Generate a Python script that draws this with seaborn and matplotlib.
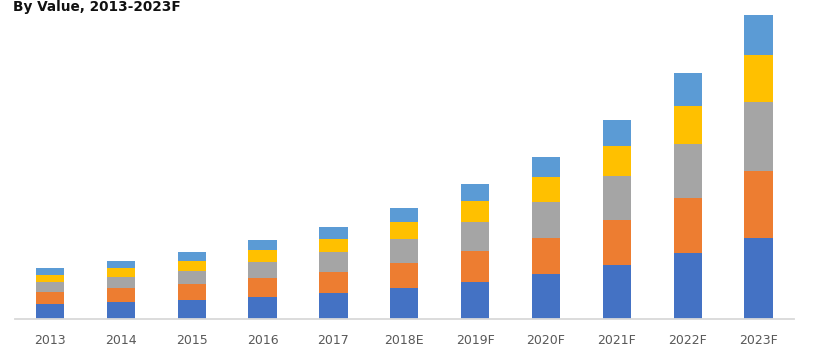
import matplotlib
matplotlib.use("Agg")
import matplotlib.pyplot as plt
import seaborn as sns
import numpy as np

# ----------------------------------------
# Data (segment heights per year)
# ----------------------------------------
years = ["2013", "2014", "2015", "2016", "2017", "2018E",
         "2019F", "2020F", "2021F", "2022F", "2023F"]
seg_1 = [15, 17, 19, 22, 26, 31, 37.5, 45, 54.5, 66.5, 81.5]
seg_2 = [12, 14, 16, 19, 21, 25.5, 30.5, 36.5, 44.5, 54.5, 66.5]
seg_3 = [10, 11, 13, 16, 20, 23.5, 29.5, 36, 44, 54.5, 69.5]
seg_4 = [7, 9, 10, 12, 13.5, 17, 20.5, 24.5, 30.5, 38, 47]
seg_5 = [7, 7, 9, 10, 11.5, 14.5, 17.5, 20.5, 25.5, 32.5, 39.5]

segments = [seg_1, seg_2, seg_3, seg_4, seg_5]
colors = ["#4472C4", "#ED7D31", "#A5A5A5", "#FFC000", "#5B9BD5"]

# ----------------------------------------
# Stacked bars: draw cumulative totals from the top down
# ----------------------------------------
sns.set_style("white")
fig = plt.figure(figsize=(8.2, 3.5), dpi=100)
ax = fig.add_axes([14.6 / 820, 31 / 350, (794 - 14.6) / 820, 319 / 350])

cum = np.cumsum(np.array(segments), axis=0)
for i in range(len(segments) - 1, -1, -1):
    sns.barplot(x=years, y=cum[i], order=years, color=colors[i],
                saturation=1, width=0.4, ax=ax, edgecolor="none")

ax.set_xlim(-0.5, len(years) - 0.5)
ax.set_ylim(0, 319)
ax.set_xlabel("")
ax.set_ylabel("")
ax.set_yticks([])
for side in ["top", "right", "left"]:
    ax.spines[side].set_visible(False)
ax.spines["bottom"].set_color("#D9D9D9")
ax.spines["bottom"].set_linewidth(1.3)
ax.tick_params(axis="x", length=0, pad=11, labelsize=9, labelcolor="#595959")

fig.text(13 / 820, 1 - 11 / 350, "By Value, 2013-2023F", fontsize=9.8,
         fontweight="bold", color="#111111", va="baseline", ha="left")

fig.savefig("out.png", dpi=100)
plt.close(fig)
